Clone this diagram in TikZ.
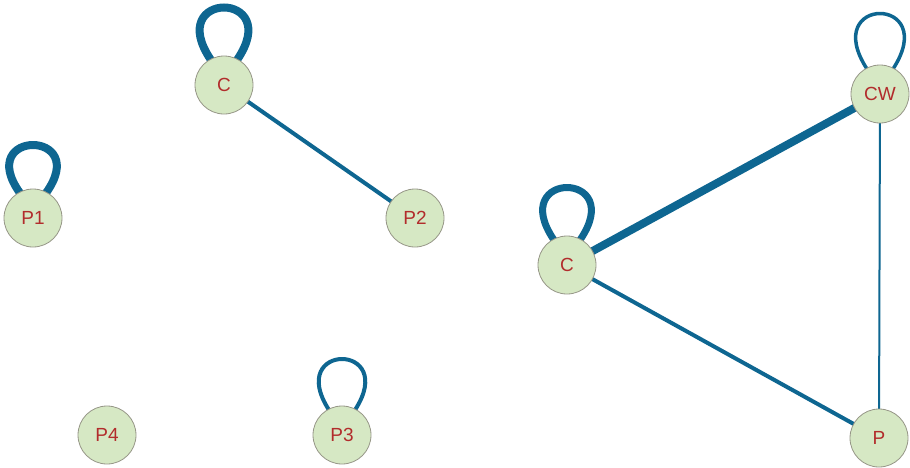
\documentclass[tikz,border=0pt]{standalone}
\usepackage{fontspec}
\setmainfont{Liberation Sans}
\usetikzlibrary{calc}
\definecolor{edgeblue}{RGB}{14,102,145}
\definecolor{nodefill}{RGB}{214,232,196}
\definecolor{nodeline}{RGB}{150,150,135}
\definecolor{labelred}{RGB}{178,44,44}
\begin{document}
\begin{tikzpicture}[x=1pt,y=-1pt,
  vnode/.style={circle,draw=nodeline,line width=0.8pt,fill=nodefill,minimum size=58pt,inner sep=0pt,
    text=labelred,font=\fontsize{19}{19}\selectfont},
  link/.style={draw=edgeblue,line cap=round},
  selfloop/.style={draw=edgeblue}
]
\useasboundingbox (0,0) rectangle (910,467);
% node coordinates (placed first so edges go beneath)
\coordinate (cC) at (224,85);
\coordinate (cP1) at (33,218);
\coordinate (cP2) at (415,218);
\coordinate (cP4) at (107,435);
\coordinate (cP3) at (342,435);
\coordinate (cC2) at (567,265);
\coordinate (cCW) at (880,94);
\coordinate (cP) at (879,438);
% self loops
\draw[selfloop,line width=8pt] ($(cC)+(-13,-25)$) .. controls +(-48,-70) and +(48,-70) .. ($(cC)+(13,-25)$);
\draw[selfloop,line width=8pt] ($(cP1)+(-13,-25)$) .. controls +(-46,-64) and +(46,-64) .. ($(cP1)+(13,-25)$);
\draw[selfloop,line width=4pt] ($(cP3)+(-13,-25)$) .. controls +(-44,-68) and +(44,-68) .. ($(cP3)+(13,-25)$);
\draw[selfloop,line width=7pt] ($(cC2)+(-13,-25)$) .. controls +(-48,-70) and +(48,-70) .. ($(cC2)+(13,-25)$);
\draw[selfloop,line width=3.5pt] ($(cCW)+(-13,-25)$) .. controls +(-48,-74) and +(48,-74) .. ($(cCW)+(13,-25)$);
% edges
\draw[link,line width=4pt] (cC) -- (cP2);
\draw[link,line width=8pt] (cC2) -- (cCW);
\draw[link,line width=4pt] (cC2) -- (cP);
\draw[link,line width=2pt] (cCW) -- (cP);
% nodes
\node[vnode] (C) at (cC) {C};
\node[vnode] (P1) at (cP1) {P1};
\node[vnode] (P2) at (cP2) {P2};
\node[vnode] (P4) at (cP4) {P4};
\node[vnode] (P3) at (cP3) {P3};
\node[vnode] (C2) at (cC2) {C};
\node[vnode] (CW) at (cCW) {CW};
\node[vnode] (P) at (cP) {P};
\end{tikzpicture}
\end{document}
